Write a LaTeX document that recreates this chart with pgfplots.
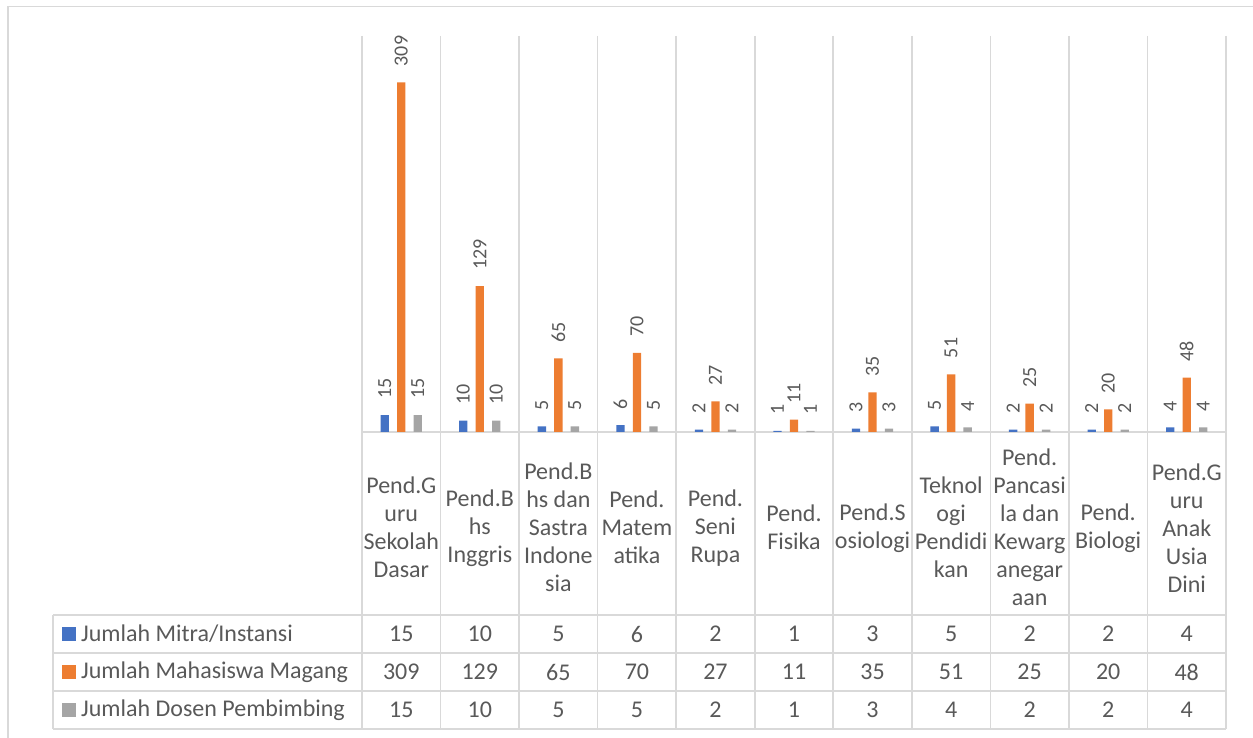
\documentclass[border=0pt]{standalone}
\usepackage{pgfplots}
\pgfplotsset{compat=1.18}
\usepackage{pgfplotstable}
\usepackage{fontspec}
\setmainfont{Carlito}
\definecolor{cblue}{HTML}{4472C4}
\definecolor{corange}{HTML}{ED7D31}
\definecolor{cgray}{HTML}{A5A5A5}
\definecolor{ctext}{HTML}{595959}
\definecolor{cgrid}{HTML}{D9D9D9}

\pgfplotstableread{
x mitra mhs dosen
0 15 309 15
1 10 129 10
2 5 65 5
3 6 70 5
4 2 27 2
5 1 11 1
6 3 35 3
7 5 51 4
8 2 25 2
9 2 20 2
10 4 48 4
}\data

\begin{document}
\begin{tikzpicture}
\useasboundingbox (0,0) rectangle (1253bp,738bp);
\draw[cgrid, line width=1.3bp] (8bp,-20bp) rectangle (1280bp,731.5bp);
% grid lines of plot and table
\foreach \i in {0,...,11} {
  \draw[cgrid, line width=1.6bp] ({362bp+78.545bp*\i},702bp) -- ({362bp+78.545bp*\i},9bp);
}
\draw[cgrid, line width=1.6bp] (362bp,306bp) -- (1226bp,306bp);
\foreach \yy in {123,85,47,9} {
  \draw[cgrid, line width=1.6bp] (53bp,\yy bp) -- (1226bp,\yy bp);
}
\draw[cgrid, line width=1.6bp] (53bp,123bp) -- (53bp,9bp);

\begin{axis}[
  at={(362bp,306bp)}, anchor=south west,
  scale only axis, width=864bp, height=396bp,
  xmin=-0.5, xmax=10.5, ymin=0, ymax=350,
  axis line style={draw=none},
  ytick=\empty,
  xtick=data,
  xtick style={draw=none},
  /pgf/number format/assume math mode=true,
  xticklabels={{Pend.G\\uru\\Sekolah\\Dasar},{Pend.B\\hs\\Inggris},{Pend.B\\hs dan\\Sastra\\Indone\\sia},{Pend.\\Matem\\atika},{Pend.\\Seni\\Rupa},{Pend.\\Fisika},{Pend.S\\osiologi},{Teknol\\ogi\\Pendidi\\kan},{Pend.\\Pancasi\\la dan\\Kewarg\\anegar\\aan},{Pend.\\Biologi},{Pend.G\\uru\\Anak\\Usia\\Dini}},
  xticklabel style={align=center, anchor=center, yshift=-91.5bp, text=ctext, font=\fontsize{24bp}{28bp}\selectfont},
  ybar, bar width=8.3bp,
  nodes near coords,
  nodes near coords align=horizontal,
  every node near coord/.append style={font=\fontsize{20bp}{24bp}\selectfont, text=ctext, rotate=90, inner sep=0pt, xshift=16bp},
  clip=false,
]
\addplot[fill=cblue, draw=none, bar shift=-16.5bp] table[x=x, y=mitra] {\data};
\addplot[fill=corange, draw=none, bar shift=0bp] table[x=x, y=mhs] {\data};
\addplot[fill=cgray, draw=none, bar shift=16.5bp] table[x=x, y=dosen] {\data};
\end{axis}

% data table
\fill[cblue] (62bp,97bp) rectangle (76bp,111bp);
\fill[corange] (62bp,59bp) rectangle (76bp,73bp);
\fill[cgray] (62bp,21bp) rectangle (76bp,35bp);
\begin{scope}[every node/.style={text=ctext, font=\fontsize{24bp}{28bp}\selectfont, inner sep=0pt}]
\node[anchor=west] at (81bp,104bp) {Jumlah Mitra/Instansi};
\node[anchor=west] at (81bp,66bp) {Jumlah Mahasiswa Magang};
\node[anchor=west] at (81bp,28bp) {Jumlah Dosen Pembimbing};
\foreach \v [count=\i from 0] in {15,10,5,6,2,1,3,5,2,2,4} {
  \node at ({362bp+78.545bp*(\i+0.5)},104bp) {\v};
}
\foreach \v [count=\i from 0] in {309,129,65,70,27,11,35,51,25,20,48} {
  \node at ({362bp+78.545bp*(\i+0.5)},66bp) {\v};
}
\foreach \v [count=\i from 0] in {15,10,5,5,2,1,3,4,2,2,4} {
  \node at ({362bp+78.545bp*(\i+0.5)},28bp) {\v};
}
\end{scope}
\end{tikzpicture}
\end{document}
